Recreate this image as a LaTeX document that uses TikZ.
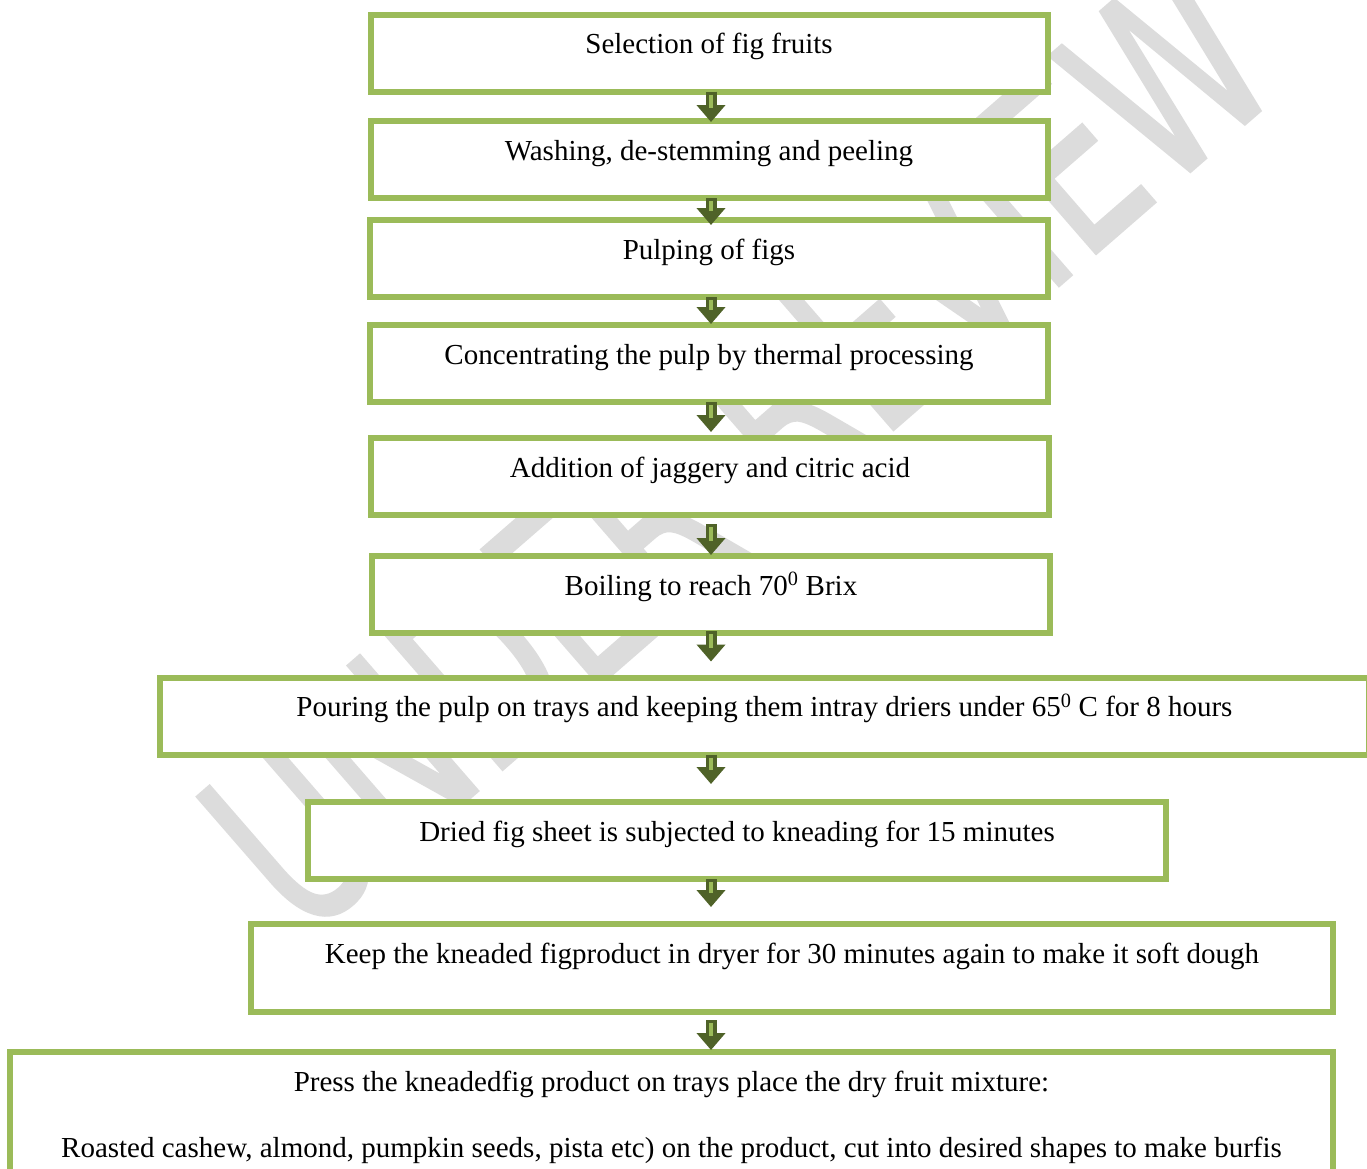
\documentclass[tikz,border=0pt]{standalone}
\usepackage{fontspec}
\setmainfont{Liberation Serif}
\newfontfamily\wmfont{DejaVu Sans}[FakeBold=1.6]
\usetikzlibrary{arrows.meta, positioning}
\definecolor{boxgreen}{HTML}{9BBB59}
\definecolor{arrowdark}{HTML}{4F6228}
\definecolor{wmgray}{HTML}{DCDCDC}
\tikzset{
  box/.style={rectangle, draw=boxgreen, line width=6pt, fill=white, inner xsep=0pt, inner ysep=0pt, outer sep=0pt, text height=39pt, text depth=38pt, anchor=north},
  fatarrow/.style={draw=arrowdark, line width=11pt, -{Triangle[width=28pt, length=17pt]}},
  fatstripe/.style={draw=boxgreen, line width=4pt},
  watermark/.style={font=\wmfont\fontsize{245}{245}\selectfont, text=wmgray, rotate=41}
}
% block arrow: from, to, shorten start, shorten end
\newcommand{\figarrow}[4]{%
  \draw[fatarrow, shorten <=#3, shorten >=#4] (#1.south -| axis) -- (#2.north -| axis);
  \draw[fatstripe, shorten <=#3+3pt, shorten >=#4+14pt] (#1.south -| axis) -- (#2.north -| axis);}

\begin{document}
\begin{tikzpicture}[x=1pt, y=-1pt, font=\fontsize{29}{35}\selectfont]
\useasboundingbox (0,0) rectangle (1367,1168);
\fill[white] (0,0) rectangle (1367,1168);

% Watermark
\node[watermark] (wm) at (738,448) {\scalebox{0.68}[1]{UNDER REVIEW}};

\coordinate (axis) at (711,0);

% Steps
\node[box, minimum width=677pt] (sel) at (709,14.5) {Selection of fig fruits};
\node[box, minimum width=677pt] (wash) at (709,121) {Washing, de-stemming and peeling};
\node[box, minimum width=678pt] (pulp) at (709,220) {Pulping of figs};
\node[box, minimum width=678pt] (conc) at (709,325) {Concentrating the pulp by thermal processing};
\node[box, minimum width=678pt] (jag) at (710,438) {Addition of jaggery and citric acid};
\node[box, minimum width=678pt] (boil) at (711,556) {Boiling to reach 70\textsuperscript{0} Brix};
\node[box, minimum width=1209pt] (pour) at (764.5,677.5) {Pouring the pulp on trays and keeping them intray driers under 65\textsuperscript{0} C for 8 hours};
\node[box, minimum width=858pt] (knead) at (737,802) {Dried fig sheet is subjected to kneading for 15 minutes};
\node[box, minimum width=1082pt, text depth=49pt] (dryer) at (792,924) {Keep the kneaded figproduct in dryer for 30 minutes again to make it soft dough};

% Last step, cut by the page
\node[box, minimum width=1323pt, text height=, text depth=, minimum height=130pt, align=center] (press) at (671.5,1052)
  {Press the kneadedfig product on trays place the dry fruit mixture:\\[31pt]
   Roasted cashew, almond, pumpkin seeds, pista etc) on the product, cut into desired shapes to make burfis};

% Arrows
\figarrow{sel}{wash}{0pt}{-1pt}
\figarrow{wash}{pulp}{0pt}{-5pt}
\figarrow{pulp}{conc}{0pt}{1pt}
\figarrow{conc}{jag}{0pt}{6pt}
\figarrow{jag}{boil}{9pt}{1pt}
\figarrow{boil}{pour}{-2pt}{16pt}
\figarrow{pour}{knead}{0pt}{18pt}
\figarrow{knead}{dryer}{0pt}{17pt}
\figarrow{dryer}{press}{8pt}{2pt}

\end{tikzpicture}
\end{document}
